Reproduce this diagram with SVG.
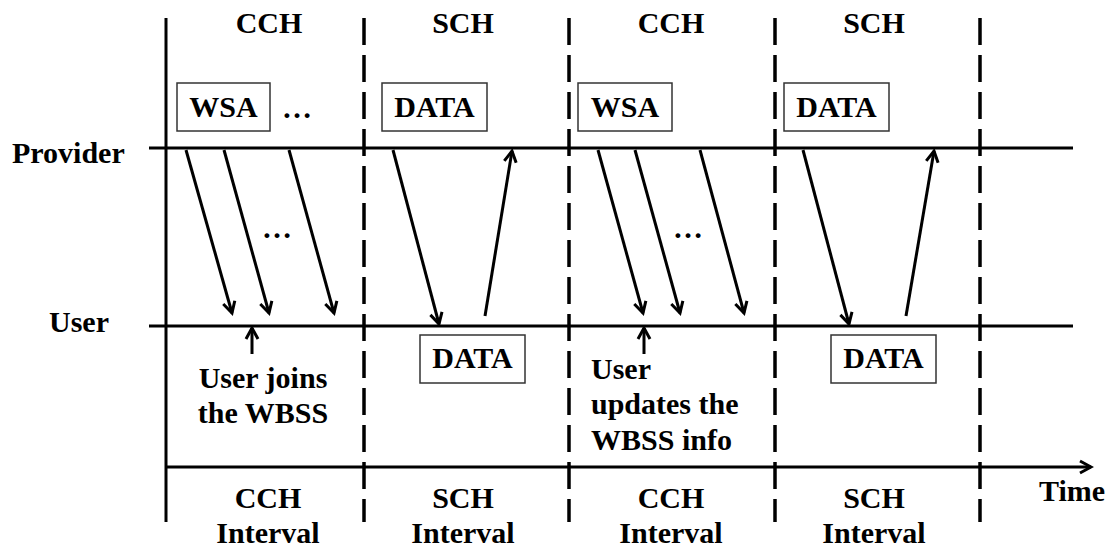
<svg xmlns="http://www.w3.org/2000/svg" width="1115" height="551" viewBox="0 0 1115 551">
  <style>
    text { font-family: "Liberation Serif", "Times New Roman", serif; font-weight: bold; font-size: 30px; fill: #000; }
    .c { text-anchor: middle; }
    .axis { stroke: #000; stroke-width: 3; fill: none; }
    .dash { stroke: #000; stroke-width: 3.5; stroke-dasharray: 27 10; fill: none; }
    .box { fill: #fff; stroke: #333; stroke-width: 1.5; }
    .msg { stroke: #000; stroke-width: 3; fill: none; marker-end: url(#head); }
  </style>
  <defs>
    <marker id="head" markerUnits="userSpaceOnUse" viewBox="0 0 16 16" refX="13" refY="8" markerWidth="16" markerHeight="16" orient="auto">
      <path d="M2,2 L13,8 L2,14" fill="none" stroke="#000" stroke-width="3" stroke-linejoin="miter"/>
    </marker>
  </defs>
  <rect width="1115" height="551" fill="#fff"/>

  <!-- timeline frame -->
  <g id="frame">
    <line class="axis" x1="166" y1="18" x2="166" y2="522"/>
    <line class="dash" x1="364" y1="18" x2="364" y2="522"/>
    <line class="dash" x1="569" y1="18" x2="569" y2="522"/>
    <line class="dash" x1="775" y1="18" x2="775" y2="522"/>
    <line class="dash" x1="980" y1="18" x2="980" y2="522"/>
    <line class="axis" x1="149" y1="148" x2="1073" y2="148"/>
    <line class="axis" x1="149" y1="326" x2="1073" y2="326"/>
    <line class="msg" x1="166" y1="467" x2="1091" y2="467"/>
  </g>

  <!-- channel headers -->
  <g id="headers">
    <text class="c" x="269" y="33">CCH</text>
    <text class="c" x="463" y="33">SCH</text>
    <text class="c" x="671" y="33">CCH</text>
    <text class="c" x="874" y="33">SCH</text>
  </g>

  <!-- row labels -->
  <g id="provider"><text x="12" y="163">Provider</text></g>
  <g id="user"><text x="49" y="332">User</text></g>

  <!-- frames sent by the provider -->
  <g id="wsa1">
    <rect class="box" x="177" y="83" width="93" height="48"/>
    <text class="c" x="223.5" y="117">WSA</text>
  </g>
  <g id="data1">
    <rect class="box" x="382" y="83" width="105" height="48"/>
    <text class="c" x="434.5" y="117">DATA</text>
  </g>
  <g id="wsa2">
    <rect class="box" x="578" y="83" width="94" height="48"/>
    <text class="c" x="625" y="117">WSA</text>
  </g>
  <g id="data2">
    <rect class="box" x="784" y="83" width="105" height="48"/>
    <text class="c" x="836.5" y="117">DATA</text>
  </g>

  <!-- frames sent by the user -->
  <g id="data3">
    <rect class="box" x="420" y="335" width="105" height="48"/>
    <text class="c" x="472.5" y="368">DATA</text>
  </g>
  <g id="data4">
    <rect class="box" x="831" y="335" width="105" height="48"/>
    <text class="c" x="883.5" y="368">DATA</text>
  </g>

  <!-- ellipses -->
  <g id="more">
    <text class="c" x="297" y="118">…</text>
    <text class="c" x="277" y="238">…</text>
    <text class="c" x="688" y="238">…</text>
  </g>

  <!-- messages -->
  <g id="connectors">
    <line class="msg" x1="186" y1="150" x2="232" y2="313"/>
    <line class="msg" x1="224" y1="150" x2="269" y2="313"/>
    <line class="msg" x1="289" y1="150" x2="334" y2="313"/>
    <line class="msg" x1="393" y1="150" x2="439" y2="324"/>
    <line class="msg" x1="485" y1="316" x2="512" y2="151"/>
    <line class="msg" x1="598" y1="150" x2="643" y2="313"/>
    <line class="msg" x1="635" y1="150" x2="680" y2="313"/>
    <line class="msg" x1="700" y1="150" x2="744" y2="313"/>
    <line class="msg" x1="803" y1="150" x2="849" y2="324"/>
    <line class="msg" x1="906" y1="316" x2="934" y2="151"/>
    <line class="msg" x1="252" y1="354" x2="252" y2="328"/>
    <line class="msg" x1="644" y1="354" x2="644" y2="328"/>
  </g>

  <!-- event notes -->
  <g id="join-note">
    <text class="c" x="263" y="388">User joins</text>
    <text class="c" x="263" y="423">the WBSS</text>
  </g>
  <g id="update-note">
    <text x="591" y="379">User</text>
    <text x="591" y="414">updates the</text>
    <text x="591" y="450">WBSS info</text>
  </g>

  <!-- interval labels -->
  <g id="intervals">
    <text class="c" x="268" y="508">CCH</text>
    <text class="c" x="268" y="543">Interval</text>
    <text class="c" x="463" y="508">SCH</text>
    <text class="c" x="463" y="543">Interval</text>
    <text class="c" x="671" y="508">CCH</text>
    <text class="c" x="671" y="543">Interval</text>
    <text class="c" x="874" y="508">SCH</text>
    <text class="c" x="874" y="543">Interval</text>
    <text x="1039" y="501">Time</text>
  </g>
</svg>
